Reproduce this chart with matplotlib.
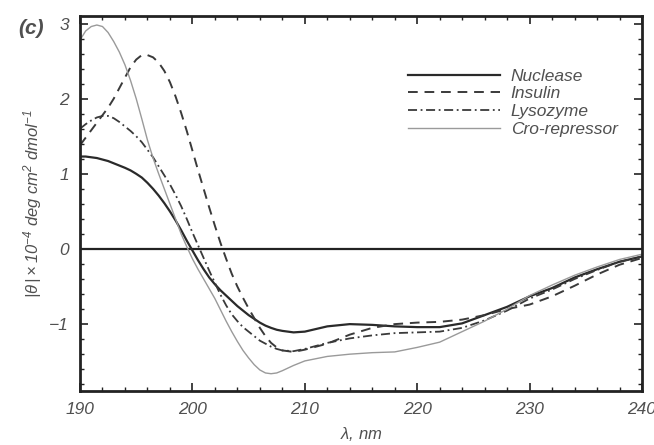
import numpy as np
import matplotlib
matplotlib.use("Agg")
import matplotlib.pyplot as plt
from matplotlib.ticker import MultipleLocator

plt.rcParams['font.family'] = ['Liberation Sans', 'DejaVu Sans']
plt.rcParams['font.style'] = 'italic'
plt.rcParams['mathtext.fontset'] = 'custom'
plt.rcParams['mathtext.rm'] = 'Liberation Sans:italic'
plt.rcParams['mathtext.it'] = 'Liberation Sans:italic'
plt.rcParams['mathtext.sf'] = 'Liberation Sans:italic'

# ---------------------------
# Data
# ---------------------------
wavelength = [190, 190.5, 191, 191.5, 192, 192.5, 193, 193.5, 194, 194.5,
              195, 195.5, 196, 196.5, 197, 197.5, 198, 198.5, 199, 199.5,
              200, 200.5, 201, 201.5, 202, 202.5, 203, 203.5, 204, 204.5,
              205, 205.5, 206, 206.5, 207, 207.5, 208, 209, 210,
              212, 214, 216, 218, 220, 222, 224, 226, 228, 230,
              232, 234, 236, 238, 240]

nuclease = [1.23, 1.23, 1.22, 1.21, 1.19, 1.17, 1.14, 1.11, 1.08, 1.045,
            1.00, 0.95, 0.88, 0.80, 0.71, 0.61, 0.50, 0.38, 0.25, 0.11,
            -0.02, -0.15, -0.27, -0.38, -0.47, -0.55, -0.62, -0.69, -0.76, -0.82,
            -0.88, -0.93, -0.98, -1.02, -1.05, -1.075, -1.09, -1.11, -1.10,
            -1.03, -1.00, -1.01, -1.03, -1.04, -1.04, -0.99, -0.88, -0.77, -0.63,
            -0.52, -0.38, -0.27, -0.17, -0.10]

insulin = [1.38, 1.48, 1.58, 1.68, 1.78, 1.88, 2.00, 2.14, 2.28, 2.42,
           2.52, 2.58, 2.58, 2.55, 2.48, 2.37, 2.22, 2.03, 1.81, 1.57,
           1.31, 1.05, 0.80, 0.55, 0.31, 0.08, -0.13, -0.33, -0.50, -0.65,
           -0.79, -0.92, -1.05, -1.16, -1.25, -1.31, -1.35, -1.37, -1.34,
           -1.26, -1.14, -1.05, -1.00, -0.98, -0.97, -0.94, -0.88, -0.80, -0.74,
           -0.63, -0.49, -0.34, -0.21, -0.12]

lysozyme = [1.60, 1.66, 1.71, 1.75, 1.77, 1.77, 1.74, 1.69, 1.63, 1.57,
            1.50, 1.42, 1.32, 1.22, 1.10, 0.98, 0.86, 0.72, 0.57, 0.40,
            0.22, 0.05, -0.12, -0.29, -0.45, -0.61, -0.75, -0.87, -0.96, -1.04,
            -1.10, -1.16, -1.22, -1.26, -1.30, -1.33, -1.35, -1.36, -1.33,
            -1.25, -1.19, -1.15, -1.12, -1.11, -1.10, -1.05, -0.95, -0.82, -0.66,
            -0.54, -0.40, -0.28, -0.17, -0.10]

cro_repressor = [2.78, 2.90, 2.96, 2.98, 2.96, 2.88, 2.76, 2.62, 2.45, 2.24,
                 2.00, 1.73, 1.45, 1.21, 1.00, 0.80, 0.60, 0.40, 0.20, 0.03,
                 -0.13, -0.27, -0.40, -0.53, -0.66, -0.81, -0.96, -1.10, -1.23, -1.35,
                 -1.45, -1.54, -1.61, -1.65, -1.66, -1.65, -1.62, -1.55, -1.49,
                 -1.43, -1.40, -1.38, -1.37, -1.31, -1.24, -1.10, -0.96, -0.80, -0.62,
                 -0.48, -0.35, -0.24, -0.14, -0.07]

labels = ['Nuclease', 'Insulin', 'Lysozyme', 'Cro-repressor']

text_color = '#505050'

# ---------------------------
# Plot
# ---------------------------
fig = plt.figure(figsize=(6.54, 4.45), dpi=100)
ax = fig.add_axes([80 / 654, 1 - 391 / 445, 562 / 654, 375 / 445])

ax.axhline(0, color='#222222', lw=1.6, zorder=1)

ax.plot(wavelength, nuclease, color='#2a2a2a', lw=1.6, ls='-', label=labels[0])
ax.plot(wavelength, insulin, color='#3a3a3a', lw=1.4, ls=(0, (5, 3.5)), label=labels[1])
ax.plot(wavelength, lysozyme, color='#3a3a3a', lw=1.3, ls=(0, (5, 2, 1, 2)), label=labels[2])
ax.plot(wavelength, cro_repressor, color='#9a9a9a', lw=1.0, ls='-', label=labels[3])

ax.set_xlim(190, 240)
ax.set_ylim(-1.89, 3.1)

ax.xaxis.set_major_locator(MultipleLocator(10))
ax.xaxis.set_minor_locator(MultipleLocator(2))
ax.yaxis.set_major_locator(MultipleLocator(1))
ax.yaxis.set_minor_locator(MultipleLocator(0.2))

ax.tick_params(which='both', direction='in', top=True, right=True,
               color='#222222', labelcolor=text_color, labelsize=12.5)
ax.tick_params(which='major', length=6, width=1.2, pad=8)
ax.tick_params(which='minor', length=3, width=1.0)

for spine in ax.spines.values():
    spine.set_linewidth(2.0)
    spine.set_color('#222222')

ax.set_xlabel(r'$\lambda$, nm', color=text_color, fontsize=12, labelpad=6)
ax.set_ylabel(r'$|\theta\,| \times 10^{-4}$ deg cm$^{2}$ dmol$^{-1}$',
              color=text_color, fontsize=12, labelpad=4)

fig.text(18 / 654, 1 - 29 / 445, '(c)', color=text_color, fontsize=15,
         fontweight='bold', va='center', ha='left')

leg = ax.legend(loc='upper left', bbox_to_anchor=(0.584, 0.86), frameon=False,
                borderpad=0, borderaxespad=0, handlelength=5.3,
                handletextpad=0.6, labelspacing=0.15, fontsize=12.5)
for t in leg.get_texts():
    t.set_color(text_color)

fig.savefig('out.png', dpi=100)
